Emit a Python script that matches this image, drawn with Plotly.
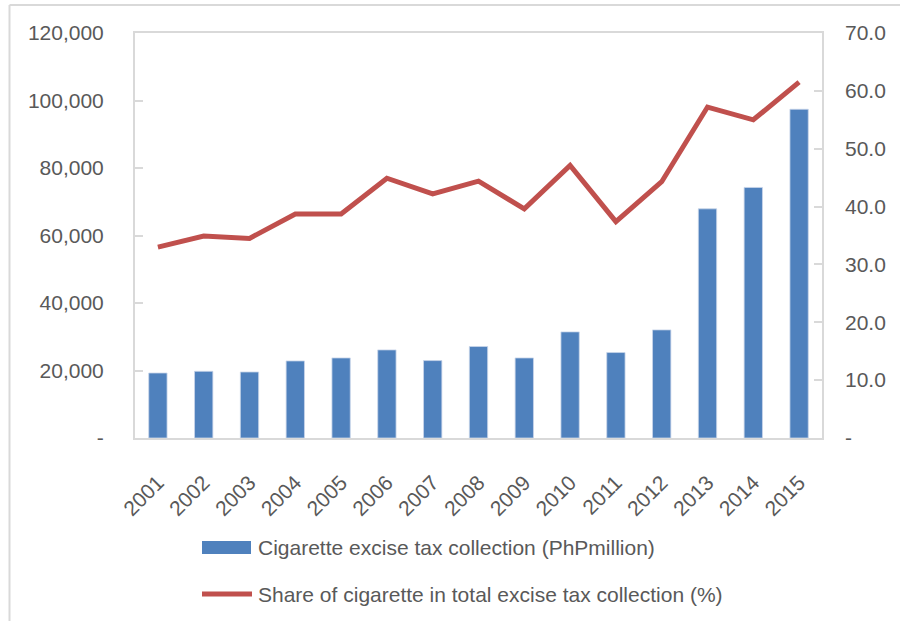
import plotly.graph_objects as go

years = ["2001", "2002", "2003", "2004", "2005", "2006", "2007", "2008",
         "2009", "2010", "2011", "2012", "2013", "2014", "2015"]
excise_tax = [19260, 19760, 19560, 22830, 23720, 26100, 22940, 27100,
              23720, 31440, 25320, 32030, 67900, 74240, 97410]
share_pct = [33.0, 34.9, 34.5, 38.7, 38.7, 44.9, 42.2, 44.4,
             39.6, 47.1, 37.4, 44.3, 57.2, 55.0, 61.5]

y1_ticks = [0, 20000, 40000, 60000, 80000, 100000, 120000]
y1_text = ["-", "20,000", "40,000", "60,000", "80,000", "100,000", "120,000"]
y2_ticks = [0, 10, 20, 30, 40, 50, 60, 70]
y2_text = ["-", "10.0", "20.0", "30.0", "40.0", "50.0", "60.0", "70.0"]

bar_name = "Cigarette excise tax collection (PhPmillion)"
line_name = "Share of cigarette in total excise tax collection (%)"

BLUE = "#4f81bd"
RED = "#c0504d"
GRID = "#d9d9d9"
TXT = "#595959"
FONT = "Liberation Sans"

W, H = 900, 621
L, R, T, B = 135, 822, 33, 438

fig = go.Figure()
fig.add_trace(go.Bar(x=years, y=excise_tax, name=bar_name,
                     marker=dict(color=BLUE, line=dict(color="#c9d6ea", width=0.8)),
                     showlegend=False))
fig.add_trace(go.Scatter(x=years, y=share_pct, name=line_name, yaxis="y2",
                         mode="lines", line=dict(color=RED, width=5),
                         showlegend=False))


def px(x):
    return (x - L) / (R - L)


def py(y):
    return (B - y) / (B - T)


shapes = [
    # legend symbols
    dict(type="rect", xref="paper", yref="paper",
         x0=px(202), x1=px(251), y0=py(554), y1=py(541),
         fillcolor=BLUE, line=dict(width=0)),
    dict(type="line", xref="paper", yref="paper",
         x0=px(202), x1=px(252), y0=py(594), y1=py(594),
         line=dict(color=RED, width=5)),
    # outer chart frame (left and top edges)
    dict(type="line", xref="paper", yref="paper",
         x0=px(9.5), x1=px(9.5), y0=py(5), y1=py(625),
         line=dict(color=GRID, width=2)),
    dict(type="line", xref="paper", yref="paper",
         x0=px(9.5), x1=px(905), y0=py(5), y1=py(5),
         line=dict(color=GRID, width=2)),
]

annotations = [
    dict(text=bar_name, xref="paper", yref="paper", x=px(256), y=py(547),
         xanchor="left", yanchor="middle", showarrow=False,
         font=dict(family=FONT, size=21, color=TXT)),
    dict(text=line_name, xref="paper", yref="paper", x=px(256), y=py(594),
         xanchor="left", yanchor="middle", showarrow=False,
         font=dict(family=FONT, size=21, color=TXT)),
]

fig.update_layout(
    width=W, height=H,
    margin=dict(l=L, r=W - R, t=T, b=H - B, pad=0),
    paper_bgcolor="white", plot_bgcolor="white",
    font=dict(family=FONT, size=21, color=TXT),
    bargap=0.6,
    showlegend=False,
    shapes=shapes,
    annotations=annotations,
    xaxis=dict(type="category", tickangle=-45, showgrid=False,
               showline=True, linecolor=GRID, linewidth=2, mirror=True,
               ticks="", ticklabelstandoff=22,
               tickfont=dict(family=FONT, size=21, color=TXT)),
    yaxis=dict(range=[0, 120000], tickvals=y1_ticks, ticktext=y1_text,
               showgrid=False, zeroline=False,
               showline=True, linecolor=GRID, linewidth=2, mirror=True,
               ticks="inside", ticklen=8, tickcolor=GRID, tickwidth=1.5,
               ticklabelstandoff=25,
               tickfont=dict(family=FONT, size=21, color=TXT)),
    yaxis2=dict(range=[0, 70], tickvals=y2_ticks, ticktext=y2_text,
                overlaying="y", side="right",
                showgrid=False, zeroline=False, showline=False,
                ticks="inside", ticklen=8, tickcolor=GRID, tickwidth=1.5,
                ticklabelstandoff=22,
                tickfont=dict(family=FONT, size=21, color=TXT)),
)

fig.write_html("out.html")
